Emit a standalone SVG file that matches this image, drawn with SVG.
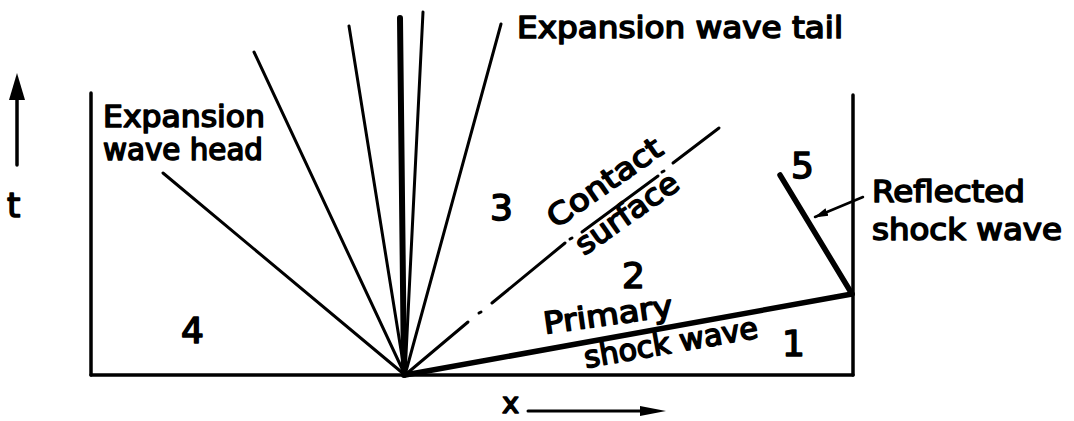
<svg xmlns="http://www.w3.org/2000/svg" width="1074" height="421" viewBox="0 0 1074 421">
<style>
.l{stroke:#000;fill:none;stroke-linecap:round}
.thin{stroke-width:3}
.wall{stroke-width:3.5}
.thick{stroke-width:5.5}
.t{font-family:"DejaVu Sans","Liberation Sans",sans-serif;font-weight:normal;fill:#000;stroke:#000;stroke-width:1.6;stroke-linejoin:round}
.lab{font-size:30px}
.num{font-size:36px}
</style>
<defs>
<marker id="ah" markerWidth="14" markerHeight="10" refX="13" refY="5" orient="auto" markerUnits="userSpaceOnUse">
<path d="M0,1 L14,5 L0,9 Z" fill="#000"/>
</marker>
</defs>
<rect width="1074" height="421" fill="#fff"/>

<g id="connectors">
<!-- tube walls and floor -->
<line class="l wall" x1="91" y1="93" x2="91" y2="375"/>
<line class="l wall" x1="853" y1="95" x2="853" y2="375"/>
<line class="l wall" x1="91" y1="375" x2="853" y2="375"/>
<!-- expansion fan -->
<line class="l thin" x1="163" y1="173" x2="405" y2="375"/>
<line class="l thin" x1="254" y1="52" x2="405" y2="375"/>
<line class="l thin" x1="349" y1="26" x2="405" y2="375"/>
<line class="l" stroke-width="6" x1="400" y1="18" x2="404" y2="375"/>
<line class="l thin" x1="423" y1="12" x2="405" y2="375"/>
<line class="l thin" x1="501" y1="24" x2="405" y2="375"/>
<!-- contact surface (dash-dot) -->
<line class="l thin" x1="405" y1="375" x2="468" y2="322"/>
<line class="l thin" x1="479" y1="313" x2="481" y2="312"/>
<line class="l thin" x1="492" y1="303" x2="565" y2="243"/>
<line class="l thin" x1="570" y1="239" x2="572" y2="238"/>
<line class="l thin" x1="582" y1="232" x2="658" y2="176"/>
<line class="l thin" x1="662" y1="172" x2="664" y2="171"/>
<line class="l thin" x1="673" y1="163" x2="719" y2="128"/>
<!-- primary shock -->
<line class="l thick" x1="405" y1="375" x2="852" y2="294"/>
<!-- reflected shock -->
<line class="l thick" x1="852" y1="294" x2="780" y2="175"/>
<!-- pointer to reflected shock -->
<line class="l" stroke-width="2.5" x1="863" y1="197" x2="815" y2="217" marker-end="url(#ah)"/>
<!-- axes -->
<line class="l" stroke-width="3.5" x1="17" y1="165" x2="17" y2="95"/>
<path d="M17,73 L9,100 L25,100 Z" fill="#000"/>
<line class="l" stroke-width="3" x1="528" y1="411" x2="645" y2="411"/>
<path d="M666,411 L640,406 L640,416 Z" fill="#000"/>
</g>

<g id="label-expansion-head">
<text class="t lab" x="103" y="127" textLength="162" lengthAdjust="spacingAndGlyphs">Expansion</text>
<text class="t lab" x="103" y="160" textLength="160" lengthAdjust="spacingAndGlyphs">wave head</text>
</g>
<g id="label-expansion-tail">
<text class="t lab" x="517" y="38" textLength="326" lengthAdjust="spacingAndGlyphs">Expansion wave tail</text>
</g>
<g id="label-contact">
<text class="t lab" transform="translate(556,229) rotate(-35)" textLength="133" lengthAdjust="spacingAndGlyphs">Contact</text>
<text class="t lab" transform="translate(584,256) rotate(-35)" textLength="119" lengthAdjust="spacingAndGlyphs">surface</text>
</g>
<g id="label-primary">
<text class="t lab" transform="translate(545,334) rotate(-8)" textLength="130" lengthAdjust="spacingAndGlyphs">Primary</text>
<text class="t lab" transform="translate(586,368) rotate(-10)" textLength="176" lengthAdjust="spacingAndGlyphs">shock wave</text>
</g>
<g id="label-reflected">
<text class="t lab" x="872" y="202" textLength="153" lengthAdjust="spacingAndGlyphs">Reflected</text>
<text class="t lab" x="872" y="240" textLength="190" lengthAdjust="spacingAndGlyphs">shock wave</text>
</g>
<g id="region-1"><text class="t num" x="782" y="356">1</text></g>
<g id="region-2"><text class="t num" x="622" y="288" font-size="40">2</text></g>
<g id="region-3"><text class="t num" x="490" y="220" font-size="34">3</text></g>
<g id="region-4"><text class="t num" x="181" y="343" font-size="40">4</text></g>
<g id="region-5"><text class="t num" x="791" y="178" font-size="34">5</text></g>
<g id="axis-t"><text class="t" x="7" y="217" font-size="34">t</text></g>
<g id="axis-x"><text class="t" x="502" y="413" font-size="29">x</text></g>
</svg>
